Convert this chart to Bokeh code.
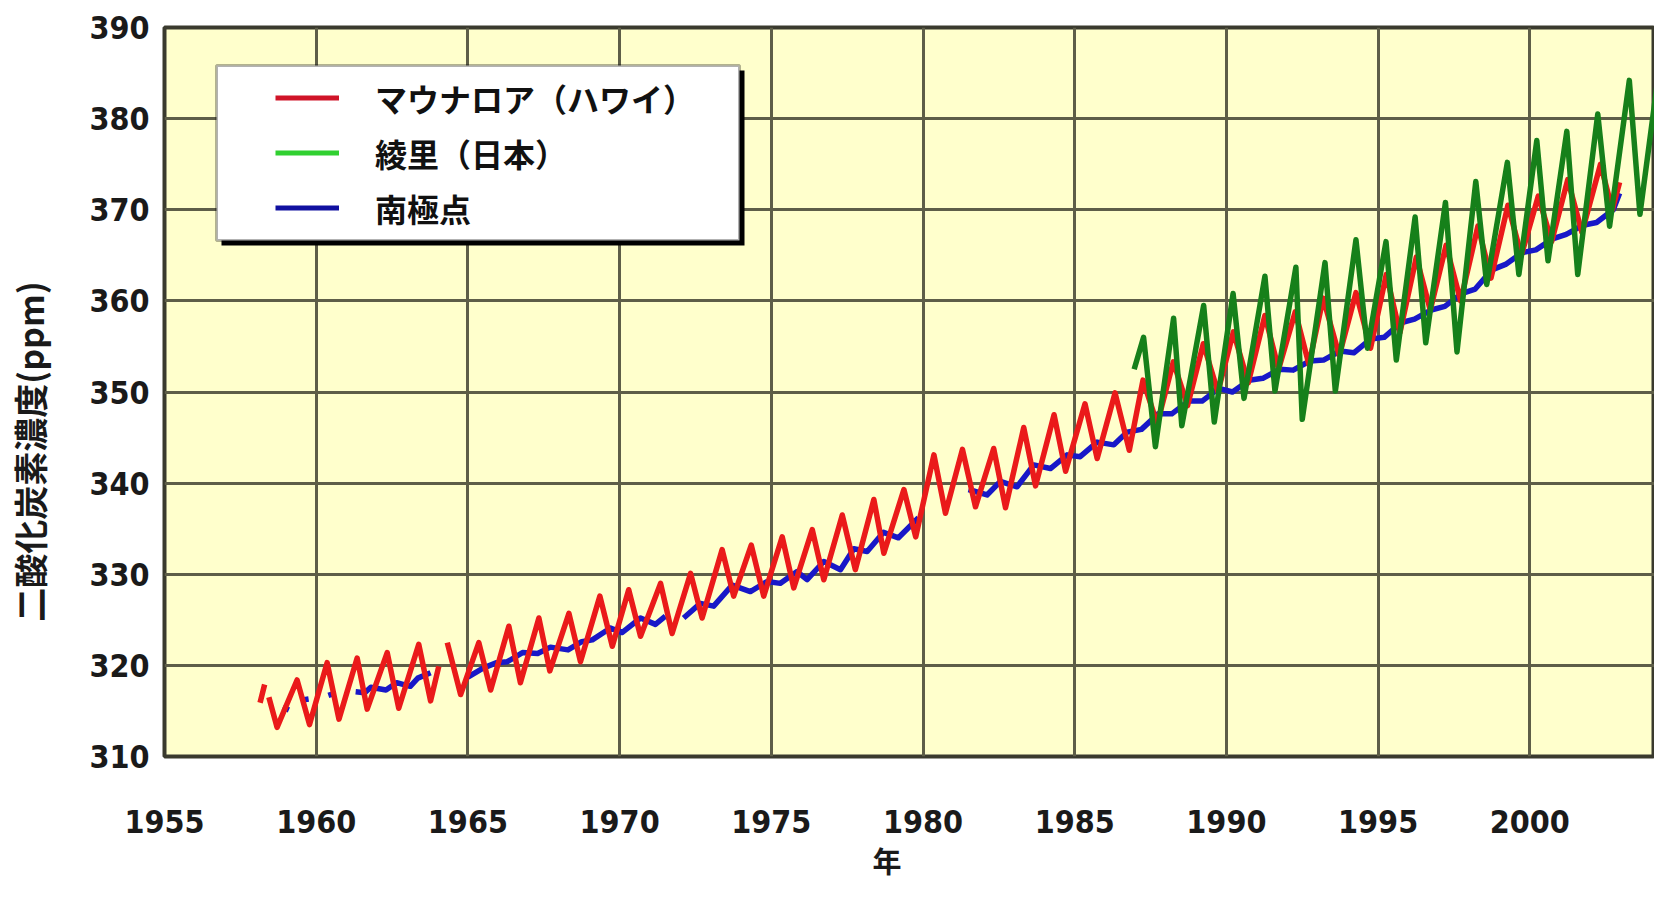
import numpy as np
from bokeh.plotting import figure
from bokeh.models import (Range1d, FixedTicker, Legend, LegendItem, Title,
                          BoxAnnotation, ColumnDataSource)
from bokeh.embed import file_html
from bokeh.resources import INLINE

nan = float("nan")

# ---------------- data ----------------
x_ticks = [1955, 1960, 1965, 1970, 1975, 1980, 1985, 1990, 1995, 2000]
y_ticks = [310, 320, 330, 340, 350, 360, 370, 380, 390]

series_names = ["マウナロア（ハワイ）", "綾里（日本）", "南極点"]
y_title = "二酸化炭素濃度(ppm)"
x_title = "年"

# Mauna Loa (Hawaii) - red
red_year = [1958.15, 1958.30, nan,
            1958.44, 1958.71, 1959.37, 1959.78, 1960.36, 1960.75, 1961.35, 1961.68,
            1962.34, 1962.72, 1963.38, 1963.77, 1964.04, nan,
            1964.32, 1964.76, 1965.36, 1965.75, 1966.35, 1966.73, 1967.34, 1967.70,
            1968.33, 1968.71, 1969.35, 1969.76, 1970.30, 1970.69, 1971.35, 1971.73,
            1972.34, 1972.72, 1973.38, 1973.76, 1974.34, 1974.75, 1975.36, 1975.74,
            1976.35, 1976.73, 1977.34, 1977.77, 1978.38, 1978.71, 1979.37, 1979.76,
            1980.36, 1980.74, 1981.30, 1981.73, 1982.33, 1982.72, 1983.32, 1983.71,
            1984.32, 1984.70, 1985.34, 1985.74, 1986.33, 1986.80, 1987.25, 1987.72,
            1988.25, 1988.72, 1989.24, 1989.72, 1990.23, 1990.72, 1991.27, 1991.72,
            1992.27, 1992.72, 1993.19, 1993.72, 1994.27, 1994.75, 1995.27, 1995.72,
            1996.26, 1996.72, 1997.24, 1997.72, 1998.29, 1998.72, 1999.28, 1999.72,
            2000.28, 2000.72, 2001.25, 2001.72, 2002.33, 2002.72, 2002.96]
red_ppm = [315.9, 317.9, nan,
           316.5, 313.2, 318.4, 313.5, 320.3, 314.1, 320.8, 315.2,
           321.4, 315.3, 322.3, 316.1, 319.9, nan,
           322.5, 316.8, 322.5, 317.3, 324.3, 318.1, 325.2, 319.4,
           325.7, 320.4, 327.6, 322.1, 328.3, 323.2, 329.0, 323.5,
           330.1, 325.2, 332.7, 327.6, 333.2, 327.6, 334.1, 328.5,
           334.9, 329.4, 336.5, 330.5, 338.2, 332.3, 339.3, 334.1,
           343.1, 336.7, 343.7, 337.4, 343.8, 337.3, 346.1, 339.7,
           347.5, 341.3, 348.7, 342.7, 349.9, 343.6, 351.3, 346.5,
           353.3, 348.5, 355.3, 350.0, 356.6, 351.0, 358.4, 352.5,
           358.8, 353.0, 360.3, 354.0, 360.9, 354.8, 362.9, 356.5,
           364.8, 359.0, 366.1, 360.0, 368.2, 362.5, 370.5, 365.0,
           371.5, 366.5, 373.3, 367.5, 375.0, 370.0, 373.0]

# Ryori (Japan) - green
green_year = [1986.96, 1987.27, 1987.66, 1988.26, 1988.53, 1989.25, 1989.60,
              1990.22, 1990.58, 1991.27, 1991.60, 1992.29, 1992.50, 1993.25,
              1993.59, 1994.27, 1994.65, 1995.26, 1995.60, 1996.22, 1996.57,
              1997.22, 1997.60, 1998.22, 1998.58, 1999.26, 1999.64, 2000.23,
              2000.60, 2001.22, 2001.58, 2002.24, 2002.63, 2003.28, 2003.63,
              2004.27, 2004.37]
green_ppm = [352.5, 356.0, 344.0, 358.1, 346.3, 359.5, 346.7,
             360.8, 349.3, 362.7, 350.1, 363.7, 347.0, 364.2,
             350.1, 366.7, 354.8, 366.5, 353.5, 369.2, 355.4,
             370.8, 354.4, 373.1, 361.8, 375.2, 362.9, 377.6,
             364.4, 378.6, 362.9, 380.5, 368.2, 384.2, 369.5,
             385.6, 376.0]

# South Pole - blue
blue_year = [1958.90, 1959.10, nan, 1959.55, 1959.75, nan, 1960.40, 1960.58, nan,
             1961.30, 1961.60, 1961.80, 1962.30, 1962.65, 1963.10, 1963.35, 1963.77, nan,
             1965.00, 1965.50, 1965.95, 1966.30, 1966.80, 1967.30, 1967.72, 1968.30,
             1968.75, 1969.10, 1969.70, 1970.08, 1970.69, 1971.18, 1971.51, nan,
             1972.11, 1972.66, 1973.10, 1973.71, 1974.31, 1974.86, 1975.30, 1975.85,
             1976.18, 1976.73, 1977.28, 1977.72, 1978.16, 1978.70, 1979.19, 1979.85, nan,
             1981.50, 1982.11, 1982.55, 1983.10, 1983.65, 1984.20, 1984.75, 1985.18,
             1985.74, 1986.29, 1986.73, 1987.20, 1987.75, 1988.20, 1988.75, 1989.20,
             1989.75, 1990.20, 1990.75, 1991.20, 1991.75, 1992.20, 1992.75, 1993.20,
             1993.75, 1994.20, 1994.75, 1995.20, 1995.75, 1996.20, 1996.75, 1997.20,
             1997.75, 1998.20, 1998.75, 1999.20, 1999.75, 2000.20, 2000.75, 2001.20,
             2001.75, 2002.20, 2002.75, 2002.96]
blue_ppm = [315.4, 315.1, nan, 316.2, 316.3, nan, 316.7, 316.9, nan,
            317.1, 317.0, 317.6, 317.3, 318.1, 317.7, 318.6, 319.2, nan,
            318.7, 319.7, 320.3, 320.4, 321.4, 321.3, 322.0, 321.7,
            322.6, 322.8, 324.1, 323.6, 325.2, 324.5, 325.4, nan,
            325.2, 326.8, 326.5, 328.8, 328.1, 329.2, 329.0, 330.3,
            329.4, 331.4, 330.5, 332.8, 332.5, 334.6, 334.0, 336.2, nan,
            339.3, 338.7, 340.2, 339.6, 342.0, 341.6, 343.1, 342.9,
            344.5, 344.2, 345.6, 345.9, 347.6, 347.6, 349.0, 349.0,
            350.4, 350.0, 351.3, 351.5, 352.5, 352.4, 353.4, 353.5,
            354.5, 354.3, 355.8, 356.0, 357.6, 358.0, 359.0, 359.4,
            360.8, 361.3, 363.4, 364.0, 365.3, 365.6, 366.8, 367.3,
            368.3, 368.6, 370.0, 371.8]

# ---------------- figure ----------------
W, H = 1654, 881
p = figure(width=W, height=H, output_backend="svg", toolbar_location=None,
           x_range=Range1d(1955, 1955 + (W - 164) / 30.34), y_range=Range1d(310, 390),
           min_border_left=164, min_border_right=0, min_border_top=27,
           min_border_bottom=H - 757)
p.background_fill_color = "#FFFFCC"
p.border_fill_color = "white"
p.outline_line_color = "#3a3a2e"
p.outline_line_width = 4

p.xaxis.ticker = FixedTicker(ticks=x_ticks)
p.yaxis.ticker = FixedTicker(ticks=y_ticks)
p.xgrid.ticker = FixedTicker(ticks=x_ticks)
p.ygrid.ticker = FixedTicker(ticks=y_ticks)
p.grid.grid_line_color = "#5e5e48"
p.grid.grid_line_width = 3

num_font = "'Liberation Sans Narrow', 'DejaVu Sans Condensed', 'Liberation Sans', sans-serif"
for ax in (p.xaxis[0], p.yaxis[0]):
    ax.axis_line_color = None
    ax.major_tick_line_color = None
    ax.minor_tick_line_color = None
    ax.major_label_text_font = num_font
    ax.major_label_text_font_size = "32px"
    ax.major_label_text_font_style = "bold"
    ax.major_label_text_color = "#1a1a1a"
p.xaxis.major_label_standoff = 47
p.yaxis.major_label_standoff = 9

# y axis title; trailing ideographic spaces move the visible text lower,
# as in the reference where it sits below the frame's middle
p.yaxis.axis_label = y_title + "\u3000\u3000\u3000\u2002"
p.yaxis.axis_label_standoff = 32
p.yaxis.axis_label_text_font = "Noto Sans CJK JP"
p.yaxis.axis_label_text_font_size = "34px"
p.yaxis.axis_label_text_font_style = "bold"
p.yaxis.axis_label_text_color = "#1a1a1a"

src_r = ColumnDataSource(data=dict(x=np.array(red_year), y=np.array(red_ppm)))
src_g = ColumnDataSource(data=dict(x=np.array(green_year), y=np.array(green_ppm)))
src_b = ColumnDataSource(data=dict(x=np.array(blue_year), y=np.array(blue_ppm)))

p.line("x", "y", source=src_b, line_color="#1818c8", line_width=5.5, line_join="round")
p.line("x", "y", source=src_r, line_color="#ea1a1a", line_width=5.5, line_join="round")
p.line("x", "y", source=src_g, line_color="#16801a", line_width=5.5, line_join="round")

# legend swatch renderers (a single missing point, so nothing is drawn in the plot)
lr = p.line(x=[nan], y=[nan], line_color="#d01428", line_width=5)
lg = p.line(x=[nan], y=[nan], line_color="#30d030", line_width=5)
lb = p.line(x=[nan], y=[nan], line_color="#1010a0", line_width=5)

shadow = BoxAnnotation(left=57, right=580, bottom=511, top=686,
                       left_units="screen", right_units="screen",
                       top_units="screen", bottom_units="screen",
                       fill_color="black", fill_alpha=1.0, line_color=None)
box = BoxAnnotation(left=52, right=575, bottom=516, top=691,
                    left_units="screen", right_units="screen",
                    top_units="screen", bottom_units="screen",
                    fill_color="white", fill_alpha=1.0,
                    line_color="black", line_width=3)
p.add_layout(shadow)
p.add_layout(box)

legend = Legend(items=[LegendItem(label=series_names[0], renderers=[lr]),
                       LegendItem(label=series_names[1], renderers=[lg]),
                       LegendItem(label=series_names[2], renderers=[lb])],
                location=(111, 521), padding=0, margin=0, spacing=0,
                label_height=55, glyph_height=55, glyph_width=64,
                label_standoff=36, background_fill_alpha=0,
                border_line_color=None,
                label_text_font="Noto Sans CJK JP", label_text_font_size="32px",
                label_text_font_style="bold", label_text_color="#111111")
p.add_layout(legend)

# x axis title (below panel)
xtitle = Title(text=x_title, align="left", offset=708, standoff=2,
               text_font="Noto Sans CJK JP", text_font_size="29px",
               text_font_style="bold", text_color="#1a1a1a")
p.add_layout(xtitle, "below")

open("out.html", "w").write(file_html(p, INLINE))
